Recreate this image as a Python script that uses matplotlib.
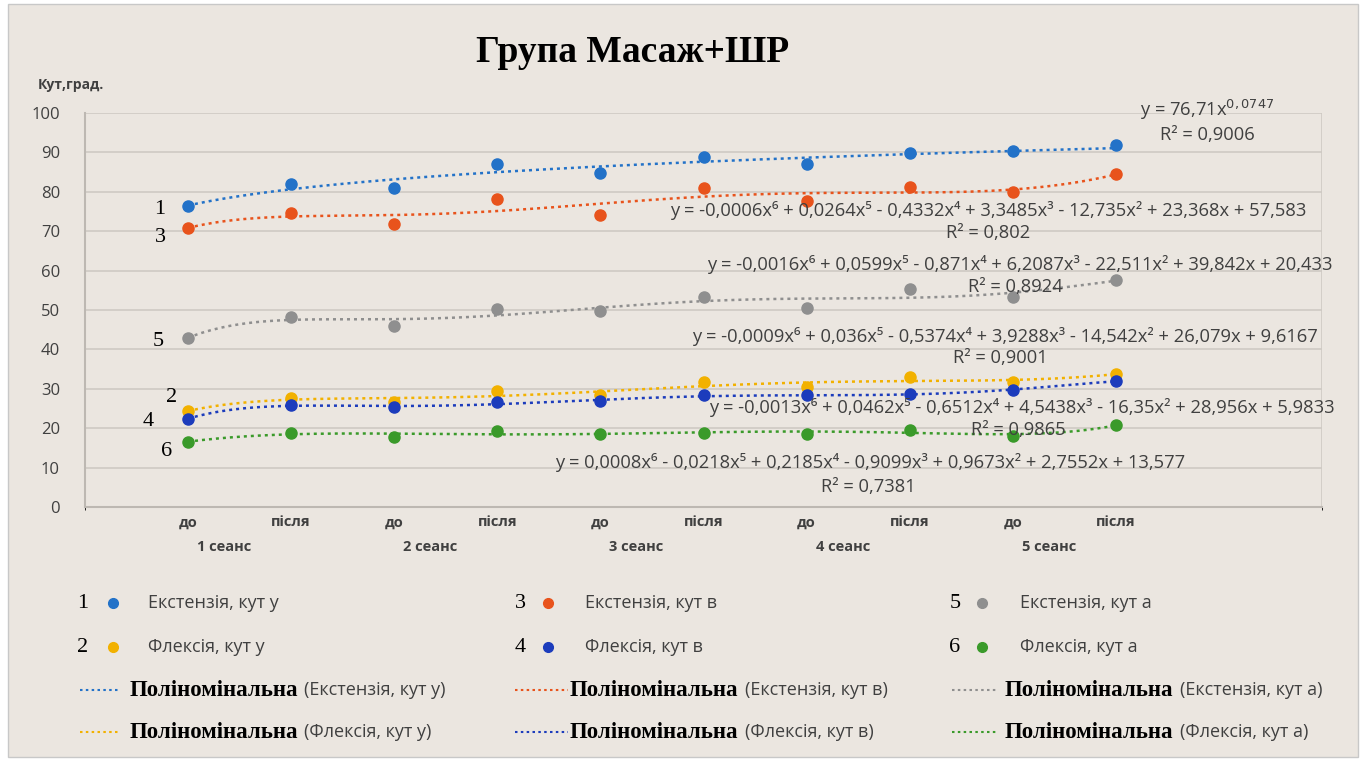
import matplotlib
matplotlib.use('Agg')
import matplotlib.pyplot as plt
import numpy as np
from matplotlib.lines import Line2D
from matplotlib.patches import Rectangle

plt.rcParams['font.family'] = ['Open Sans', 'DejaVu Sans']

# Chart data (angle, degrees), 5 sessions, before/after each
stage_labels = ['до', 'після'] * 5
session_labels = ['1 сеанс', '2 сеанс', '3 сеанс', '4 сеанс', '5 сеанс']

ext_u = [76.4, 82.0, 81.0, 87.0, 84.8, 88.8, 87.0, 89.9, 90.4, 91.9]
flex_u = [24.3, 27.7, 26.6, 29.4, 28.4, 31.6, 30.4, 33.0, 31.8, 33.8]
ext_v = [70.7, 74.6, 71.9, 78.2, 74.2, 81.0, 77.7, 81.2, 80.0, 84.5]
flex_v = [22.4, 25.8, 25.3, 26.6, 26.8, 28.3, 28.3, 28.6, 29.8, 31.9]
ext_a = [42.8, 48.3, 46.0, 50.2, 49.8, 53.4, 50.6, 55.3, 53.4, 57.6]
flex_a = [16.5, 18.9, 17.7, 19.2, 18.5, 18.9, 18.6, 19.6, 18.1, 20.8]

series_names = ['Екстензія, кут у', 'Флексія, кут у', 'Екстензія, кут в',
                'Флексія, кут в', 'Екстензія, кут а', 'Флексія, кут а']

equations = [
    ('y = 76,71x$^{0,0747}$', 'R² = 0,9006'),
    ('y = -0,0006x⁶ + 0,0264x⁵ - 0,4332x⁴ + 3,3485x³ - 12,735x² + 23,368x + 57,583', 'R² = 0,802'),
    ('y = -0,0016x⁶ + 0,0599x⁵ - 0,871x⁴ + 6,2087x³ - 22,511x² + 39,842x + 20,433', 'R² = 0,8924'),
    ('y = -0,0009x⁶ + 0,036x⁵ - 0,5374x⁴ + 3,9288x³ - 14,542x² + 26,079x + 9,6167', 'R² = 0,9001'),
    ('y = -0,0013x⁶ + 0,0462x⁵ - 0,6512x⁴ + 4,5438x³ - 16,35x² + 28,956x + 5,9833', 'R² = 0,9865'),
    ('y = 0,0008x⁶ - 0,0218x⁵ + 0,2185x⁴ - 0,9099x³ + 0,9673x² + 2,7552x + 13,577', 'R² = 0,7381'),
]

W, H = 1367, 763
BG = '#EBE6E0'
GRID = '#CFCAC4'
TXT = '#404040'
SERIF = 'Liberation Serif'


def fx(px):
    return px / W


def fy(py):
    return 1 - py / H


def main():
    fig = plt.figure(figsize=(W / 100, H / 100), dpi=100)
    fig.patch.set_facecolor('white')
    fig.add_artist(Rectangle((fx(8), fy(757)), fx(1350), 1 - fy(757) - (1 - fy(4)),
                             transform=fig.transFigure, facecolor=BG,
                             edgecolor='#C8C8C8', lw=1, zorder=-10))

    ax = fig.add_axes([fx(85), fy(507), fx(1322) - fx(85), fy(113) - fy(507)])
    ax.set_facecolor('none')

    x = np.arange(1, 11)
    xs = np.linspace(1, 10, 200)

    series = [
        (ext_u, '#2372C8', 'power'),
        (ext_v, '#E8531C', 'poly'),
        (ext_a, '#8F8F8F', 'poly'),
        (flex_u, '#F2B100', 'poly'),
        (flex_v, '#1C3CBC', 'poly'),
        (flex_a, '#3A9A2A', 'poly'),
    ]
    for vals, color, kind in series:
        vals = np.array(vals)
        if kind == 'power':
            b, a = np.polyfit(np.log(x), np.log(vals), 1)
            ys = np.exp(a) * xs ** b
        else:
            ys = np.polyval(np.polyfit(x, vals, 6), xs)
        ax.plot(xs, ys, color=color, lw=1.8, ls=(0, (1.2, 1.6)), zorder=2)
        ax.plot(x, vals, 'o', color=color, ms=8, zorder=3)

    ax.set_xlim(0, 12)
    ax.set_ylim(0, 100)
    ax.set_yticks(range(0, 101, 10))
    ax.set_xticks(x)
    ax.set_xticklabels(stage_labels, fontsize=10.5, fontweight='bold', color=TXT)
    ax.tick_params(axis='y', labelsize=12, colors=TXT, length=0, pad=18)
    ax.tick_params(axis='x', length=0, pad=6)
    ax.set_xticks(range(0, 13, 2), minor=True)
    ax.grid(axis='y', color=GRID, lw=1.2)
    ax.grid(axis='x', which='minor', color=GRID, lw=1.2)
    for s in ['top', 'right']:
        ax.spines[s].set_visible(False)
    for s in ['left', 'bottom']:
        ax.spines[s].set_color('#BDB8B2')
        ax.spines[s].set_linewidth(1.5)

    for i, lab in enumerate(session_labels):
        ax.text(2 * i + 1.35, -10.1, lab, ha='center', va='center', fontsize=10.5,
                fontweight='bold', color=TXT)

    # series numbers beside first points
    num_pos = [('1', 160, 210), ('3', 160, 237), ('5', 158, 342),
               ('2', 172, 398), ('4', 148, 422), ('6', 167, 452)]
    for t, px, py in num_pos:
        fig.text(fx(px), fy(py), t, family=SERIF, fontsize=16, ha='center',
                 va='center', color='black')

    # trendline equations
    eq_pos = [(1207, 110, 1207, 135), (988, 210, 988, 233), (1020, 265, 1015, 287),
              (1005, 336, 1000, 358), (1022, 407, 1018, 430), (870, 463, 868, 487)]
    for (eq, r2), (ex, ey, rx, ry) in zip(equations, eq_pos):
        fig.text(fx(ex), fy(ey), eq, fontsize=13.2, ha='center', va='center', color=TXT)
        fig.text(fx(rx), fy(ry), r2, fontsize=13.2, ha='center', va='center', color=TXT)

    fig.text(fx(633), fy(52), 'Група Масаж+ШР', family=SERIF, fontsize=27,
             fontweight='bold', ha='center', va='center')
    fig.text(fx(38), fy(85), 'Кут,град.', fontsize=10, fontweight='bold',
             ha='left', va='center', color=TXT)

    # manual legend, 3 columns
    leg_colors = ['#2372C8', '#F2B100', '#E8531C', '#1C3CBC', '#8F8F8F', '#3A9A2A']
    cols = [(83, 113, 148, 80, 118, 130), (520, 548, 585, 515, 568, 570),
            (955, 982, 1020, 952, 998, 1005)]
    rows = [603, 647, 690, 732]
    for c, (nx, mx, tx, l0, l1, px) in enumerate(cols):
        for r in range(2):
            k = 2 * c + r
            y = rows[r]
            fig.text(fx(nx), fy(y), str(k + 1), family=SERIF, fontsize=16,
                     ha='center', va='center')
            fig.add_artist(Line2D([fx(mx)], [fy(y)], marker='o', ms=7,
                                  color=leg_colors[k], transform=fig.transFigure))
            fig.text(fx(tx), fy(y), series_names[k], fontsize=13, ha='left',
                     va='center', color=TXT)
            y2 = rows[r + 2]
            fig.add_artist(Line2D([fx(l0), fx(l1)], [fy(y2), fy(y2)], lw=1.5,
                                  ls=(0, (1.2, 1.6)), color=leg_colors[k],
                                  transform=fig.transFigure))
            t = fig.text(fx(px), fy(y2), 'Поліномінальна', family=SERIF,
                         fontsize=16.5, fontweight='bold', ha='left', va='center')
            fig.canvas.draw()
            bb = t.get_window_extent()
            fig.text(bb.x1 / W + fx(6), fy(y2), '(' + series_names[k] + ')',
                     fontsize=13, ha='left', va='center', color=TXT)

    fig.savefig('out.png', dpi=100, facecolor=fig.get_facecolor())


if __name__ == '__main__':
    main()
